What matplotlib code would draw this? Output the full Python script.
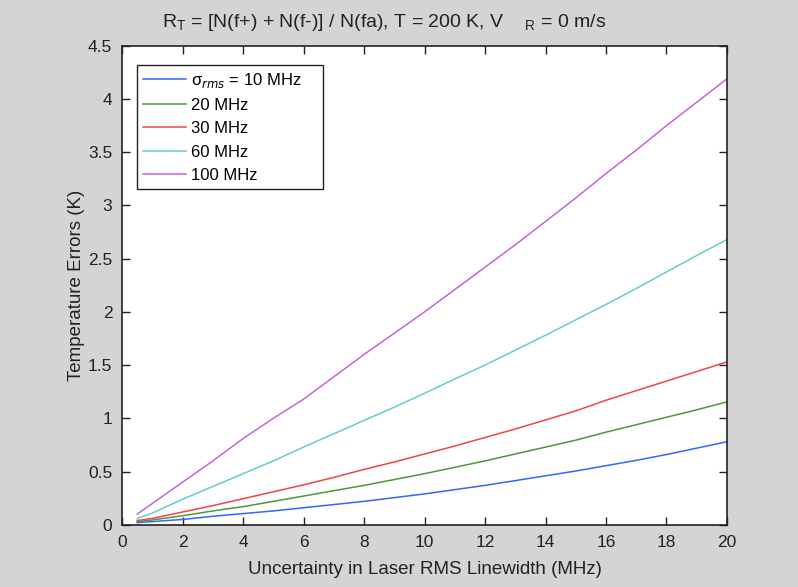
import matplotlib.pyplot as plt
from matplotlib.ticker import FuncFormatter

plt.rcParams['font.family'] = ['Liberation Sans', 'DejaVu Sans']

# Uncertainty in laser RMS linewidth (MHz)
x = [0.5, 1, 2, 3, 4, 5, 6, 7, 8, 9, 10, 11, 12, 13, 14, 15, 16, 17, 18, 19, 20]

# Temperature errors (K), one list per sigma_rms
err_10 = [0.02, 0.03, 0.05, 0.08, 0.105, 0.13, 0.16, 0.19, 0.22, 0.255, 0.29, 0.33, 0.37, 0.415, 0.46, 0.505, 0.555, 0.605, 0.66, 0.72, 0.78]
err_20 = [0.03, 0.045, 0.085, 0.13, 0.17, 0.22, 0.27, 0.32, 0.37, 0.425, 0.48, 0.54, 0.6, 0.665, 0.73, 0.795, 0.87, 0.94, 1.01, 1.08, 1.155]
err_30 = [0.04, 0.06, 0.12, 0.18, 0.245, 0.31, 0.375, 0.445, 0.52, 0.59, 0.665, 0.74, 0.82, 0.9, 0.985, 1.07, 1.17, 1.26, 1.35, 1.44, 1.53]
err_60 = [0.06, 0.11, 0.24, 0.36, 0.48, 0.6, 0.73, 0.855, 0.98, 1.105, 1.235, 1.37, 1.5, 1.64, 1.78, 1.925, 2.07, 2.22, 2.375, 2.53, 2.68]
err_100 = [0.1, 0.2, 0.4, 0.6, 0.81, 1.0, 1.18, 1.39, 1.6, 1.8, 2.0, 2.21, 2.42, 2.63, 2.85, 3.07, 3.3, 3.52, 3.75, 3.97, 4.19]

labels = ['σ$_{rms}$ = 10 MHz', '20 MHz', '30 MHz', '60 MHz', '100 MHz']
colors = ['#3366ff', '#4a9a3a', '#f04545', '#66cccc', '#c066dd']

fig = plt.figure(figsize=(7.98, 5.87), dpi=100, facecolor='#d4d4d4')
ax = fig.add_axes([0.153, 0.106, 0.758, 0.816])

for y, lab, c in zip([err_10, err_20, err_30, err_60, err_100], labels, colors):
    ax.plot(x, y, color=c, linewidth=1.1, label=lab)

ax.set_xlim(0, 20)
ax.set_ylim(0, 4.5)
ax.set_xticks(range(0, 21, 2))
ax.set_yticks([i * 0.5 for i in range(10)])
ax.yaxis.set_major_formatter(FuncFormatter(lambda v, p: f'{v:g}'))
ax.tick_params(direction='in', length=6, width=1, top=True, right=True,
               labelsize=12.5, pad=7, colors='#222222', labelcolor='#222222')
for s in ax.spines.values():
    s.set_linewidth(1.2)
    s.set_color('#222222')

ax.set_xlabel('Uncertainty in Laser RMS Linewidth (MHz)', fontsize=13.5,
              color='#222222', labelpad=8)
ax.set_ylabel('Temperature Errors (K)', fontsize=13.5, color='#222222', labelpad=2)
fig.text(0.481, 1 - 27 / 587,
         r'R$_\mathregular{T}$ = [N(f+) + N(f-)] / N(fa), T = 200 K, V    $_\mathregular{R}$ = 0 m/s',
         fontsize=14, color='#222222', ha='center', va='baseline')

leg = ax.legend(loc='upper left', bbox_to_anchor=(0.0248, 0.0, 0.3074, 0.9603),
                mode='expand', borderaxespad=0, fontsize=12,
                frameon=True, fancybox=False, edgecolor='#222222', framealpha=1,
                handlelength=2.6, handletextpad=0.3, labelspacing=0.5,
                borderpad=0.35)
leg.get_frame().set_linewidth(1.0)

fig.savefig('out.png', dpi=100, facecolor=fig.get_facecolor())
